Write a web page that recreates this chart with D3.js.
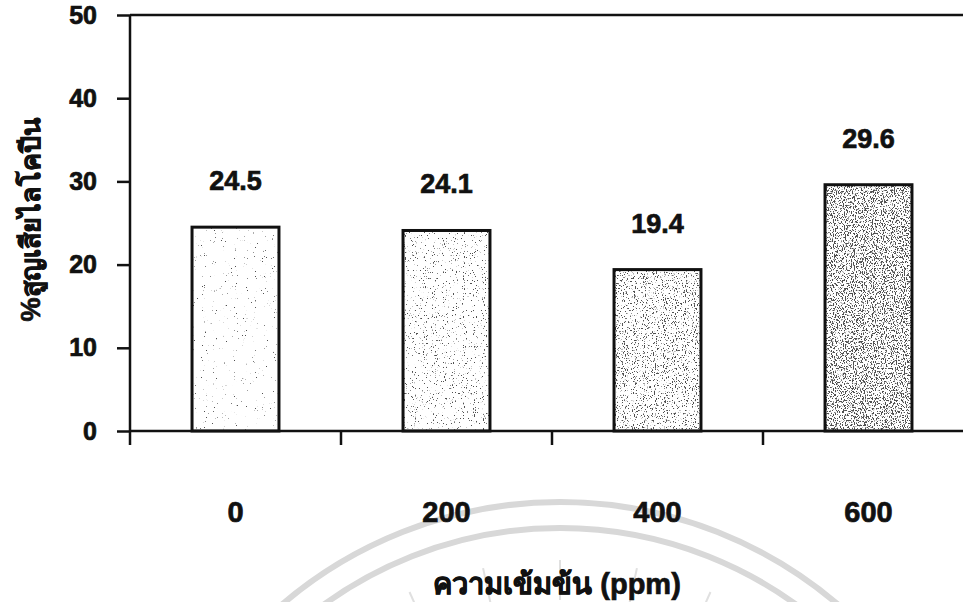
<!DOCTYPE html>
<html>
<head>
<meta charset="utf-8">
<script src="https://cdn.jsdelivr.net/npm/d3@7"></script>
<style>
  html, body { margin: 0; padding: 0; background: #fff; }
  svg { display: block; }
  text { font-family: "Liberation Sans", Arial, "Noto Sans", sans-serif; font-weight: bold; fill: #111; stroke: #111; stroke-width: 0.7px; }
</style>
</head>
<body>
<div id="chart"></div>
<script>
// Lycopene loss (%) at each concentration (ppm)
const categories = ["0", "200", "400", "600"];
const lossValues = [24.5, 24.1, 19.4, 29.6];
const yTicks = [0, 10, 20, 30, 40, 50];

// Stipple threshold for each bar (lower = denser dots)
const stippleThreshold = [0.72, 0.665, 0.6, 0.535];

const W = 963, H = 602;
const svg = d3.select("#chart").append("svg").attr("width", W).attr("height", H);

// faint emblem rings behind the axis labels
const ring = svg.append("g").attr("fill", "none").attr("stroke", "#d8d8d8").attr("stroke-width", 6);
ring.append("circle").attr("cx", 560).attr("cy", 930).attr("r", 428);
ring.append("circle").attr("cx", 560).attr("cy", 930).attr("r", 402);
const rays = svg.append("g").attr("stroke", "#e0e0e0").attr("stroke-width", 2);
d3.range(-60, 61, 12).forEach(a => {
  const t = (a - 90) * Math.PI / 180;
  rays.append("line")
    .attr("x1", 560 + 330 * Math.cos(t)).attr("y1", 930 + 330 * Math.sin(t))
    .attr("x2", 560 + 370 * Math.cos(t)).attr("y2", 930 + 370 * Math.sin(t));
});

const x = d3.scaleBand().domain(categories).range([130, 974])
  .paddingInner(0.588).paddingOuter(0.294);
const y = d3.scaleLinear().domain([0, 50]).range([431, 15]);

// stipple filters
const defs = svg.append("defs");
stippleThreshold.forEach((t, i) => {
  const f = defs.append("filter").attr("id", "stip" + i)
    .attr("x", 0).attr("y", 0).attr("width", 1).attr("height", 1);
  f.append("feTurbulence").attr("type", "fractalNoise")
    .attr("baseFrequency", "0.9 0.6").attr("numOctaves", 2).attr("seed", 7 + i);
  const k = 14;
  f.append("feColorMatrix").attr("type", "matrix")
    .attr("values", `0 0 0 0 0.08  0 0 0 0 0.08  0 0 0 0 0.08  ${k} 0 0 0 ${-k * t}`);
  f.append("feComposite").attr("in2", "SourceAlpha").attr("operator", "in");
});

const data = categories.map((c, i) => ({ c, v: lossValues[i], i }));

// bars: white body, stipple, outline
const bars = svg.append("g");
bars.selectAll("rect.body").data(data).join("rect").attr("class", "body")
  .attr("x", d => x(d.c)).attr("y", d => y(d.v))
  .attr("width", x.bandwidth()).attr("height", d => y(0) - y(d.v))
  .attr("fill", "#fff");
bars.selectAll("rect.dots").data(data).join("rect").attr("class", "dots")
  .attr("x", d => x(d.c)).attr("y", d => y(d.v))
  .attr("width", x.bandwidth()).attr("height", d => y(0) - y(d.v))
  .attr("fill", "#000").attr("filter", d => `url(#stip${d.i})`);
bars.selectAll("rect.edge").data(data).join("rect").attr("class", "edge")
  .attr("x", d => x(d.c)).attr("y", d => y(d.v))
  .attr("width", x.bandwidth()).attr("height", d => y(0) - y(d.v))
  .attr("fill", "none").attr("stroke", "#111").attr("stroke-width", 3);

// value labels
svg.append("g").selectAll("text").data(data).join("text")
  .attr("x", d => x(d.c) + x.bandwidth() / 2)
  .attr("y", d => y(d.v) - 37)
  .attr("text-anchor", "middle").attr("font-size", 27)
  .text(d => d.v.toFixed(1));

// frame line across the top
svg.append("line").attr("x1", 130).attr("x2", W).attr("y1", y(50)).attr("y2", y(50))
  .attr("stroke", "#111").attr("stroke-width", 2.5);

// y axis
const yAxis = svg.append("g").attr("transform", "translate(130,0)")
  .call(d3.axisLeft(y).tickValues(yTicks).tickSize(13).tickPadding(20).tickSizeOuter(0));
yAxis.select(".domain").remove();
yAxis.selectAll(".tick line").attr("stroke", "#111").attr("stroke-width", 2.5);
yAxis.selectAll(".tick text").attr("font-size", 25).attr("font-family", null).attr("fill", "#111");
svg.append("line").attr("x1", 130).attr("x2", 130).attr("y1", y(50)).attr("y2", y(0) + 14)
  .attr("stroke", "#111").attr("stroke-width", 2.5);

// x axis: baseline, boundary ticks, centred category labels
svg.append("line").attr("x1", 130).attr("x2", W).attr("y1", y(0)).attr("y2", y(0))
  .attr("stroke", "#111").attr("stroke-width", 2.5);
svg.append("g").selectAll("line").data(categories.slice(1)).join("line")
  .attr("x1", c => x(c) - x.step() * x.paddingInner() / 2)
  .attr("x2", c => x(c) - x.step() * x.paddingInner() / 2)
  .attr("y1", y(0)).attr("y2", y(0) + 14)
  .attr("stroke", "#111").attr("stroke-width", 2.5);
const xAxis = svg.append("g").attr("transform", `translate(0,${y(0)})`)
  .call(d3.axisBottom(x).tickSize(0).tickPadding(70));
xAxis.select(".domain").remove();
xAxis.selectAll(".tick text").attr("font-size", 29).attr("font-family", null).attr("fill", "#111");

// axis titles
svg.append("text").attr("x", 557).attr("y", 594).attr("text-anchor", "middle")
  .attr("font-size", 29).text("ความเข้มข้น (ppm)");
svg.append("text").attr("transform", "translate(40,220) rotate(-90)")
  .attr("text-anchor", "middle").attr("font-size", 27).text("%สูญเสียไลโคปีน");
</script>
</body>
</html>
